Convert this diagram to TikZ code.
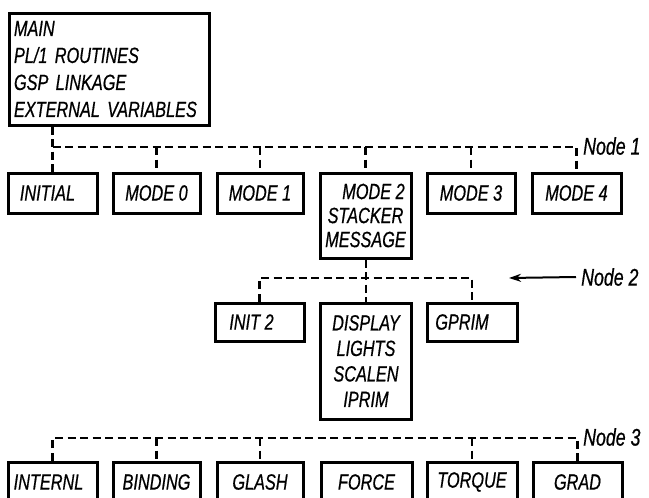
\documentclass[tikz,border=0pt]{standalone}
\usepackage{fontspec}
\newfontfamily\lettering[FakeStretch=0.74, FakeBold=0.6]{Liberation Sans}
\usetikzlibrary{arrows.meta}
\tikzset{
  box/.style={draw, line width=3pt, rectangle, inner sep=0pt, align=center,
    font=\lettering\itshape\fontsize{22}{24}\selectfont},
  onebox/.style={box, minimum width=#1, minimum height=40pt},
  bus/.style={draw, line width=2.2pt, dash pattern=on 8pt off 4.5pt},
  lbl/.style={anchor=west, inner sep=0pt, font=\lettering\itshape\fontsize{24}{24}\selectfont}
}
\begin{document}
\begin{tikzpicture}[x=1pt, y=-1pt]
\useasboundingbox (0,0) rectangle (649,498);
\clip (0,0) rectangle (649,498);
\fill[white] (0,0) rectangle (649,498);

% main box
\node[box, minimum width=200pt, minimum height=112pt, align=left, text width=190pt,
      font=\lettering\itshape\fontsize{22}{27}\selectfont] (main) at (109,69)
  {MAIN\\PL/1 ROUTINES\\GSP LINKAGE\\EXTERNAL VARIABLES};

% row 1
\node[onebox=89pt] (initial) at (52.5,193) {INITIAL\hspace*{10pt}};
\node[onebox=87pt] (mode0) at (156.5,193) {MODE 0};
\node[onebox=86pt] (mode1) at (260,193) {MODE 1};
\node[box, minimum width=91pt, minimum height=85pt] (mode2) at (365.5,215.5)
  {\hspace*{16pt}MODE 2\\STACKER\\MESSAGE};
\node[onebox=88pt] (mode3) at (471,193) {MODE 3};
\node[onebox=89pt] (mode4) at (576.5,193) {MODE 4};

% row 2
\node[box, minimum width=89pt, minimum height=38pt] (init2) at (259.5,322) {INIT 2\hspace*{16pt}};
\node[box, minimum width=91pt, minimum height=116pt,
      font=\lettering\itshape\fontsize{22}{25.5}\selectfont] (display) at (366,361)
  {DISPLAY\\LIGHTS\\SCALEN\\IPRIM};
\node[box, minimum width=90pt, minimum height=38pt] (gprim) at (472,322) {GPRIM\hspace*{20pt}};

% row 3
\node[onebox=89pt] (internl) at (52.5,482) {INTERNL\hspace*{8pt}};
\node[onebox=87pt] (binding) at (156.5,482) {BINDING};
\node[onebox=86pt] (glash) at (260,482) {GLASH};
\node[onebox=91pt] (force) at (366.5,482) {FORCE};
\node[onebox=90pt] (torque) at (472,482) {TORQUE};
\node[onebox=89pt] (grad) at (577.5,482) {GRAD};

% bus lines
\coordinate (n1) at (0,147);
\coordinate (n2) at (0,278);
\coordinate (n3) at (0,438);

% Node 1
\draw[bus] (main.south -| initial.north) -- (initial.north);
\draw[bus] (initial.north |- n1) -- (mode4.north |- n1) -- (mode4.north);
\draw[bus] (mode0.north |- n1) -- (mode0.north);
\draw[bus] (mode1.north |- n1) -- (mode1.north);
\draw[bus] (mode2.north |- n1) -- (mode2.north);
\draw[bus] (mode3.north |- n1) -- (mode3.north);

% Node 2
\draw[bus] (mode2.south -| display.north) -- (display.north);
\draw[bus] (init2.north) -- (init2.north |- n2) -- (gprim.north |- n2) -- (gprim.north);

% Node 3
\draw[bus] (internl.north) -- (internl.north |- n3) -- (grad.north |- n3) -- (grad.north);
\draw[bus] (binding.north |- n3) -- (binding.north);
\draw[bus] (glash.north |- n3) -- (glash.north);
\draw[bus] (torque.north |- n3) -- (torque.north);

% labels
\node[lbl] (lbl1) at (583,146) {Node 1};
\node[lbl] (lbl2) at (581,277) {Node 2};
\node[lbl] (lbl3) at (583,437) {Node 3};
\coordinate (arrowtip) at (509,278);
\draw[line width=2pt, -{Stealth[length=12pt,width=8pt]}] ([xshift=-5pt]lbl2.west) -- (arrowtip);
\end{tikzpicture}
\end{document}
